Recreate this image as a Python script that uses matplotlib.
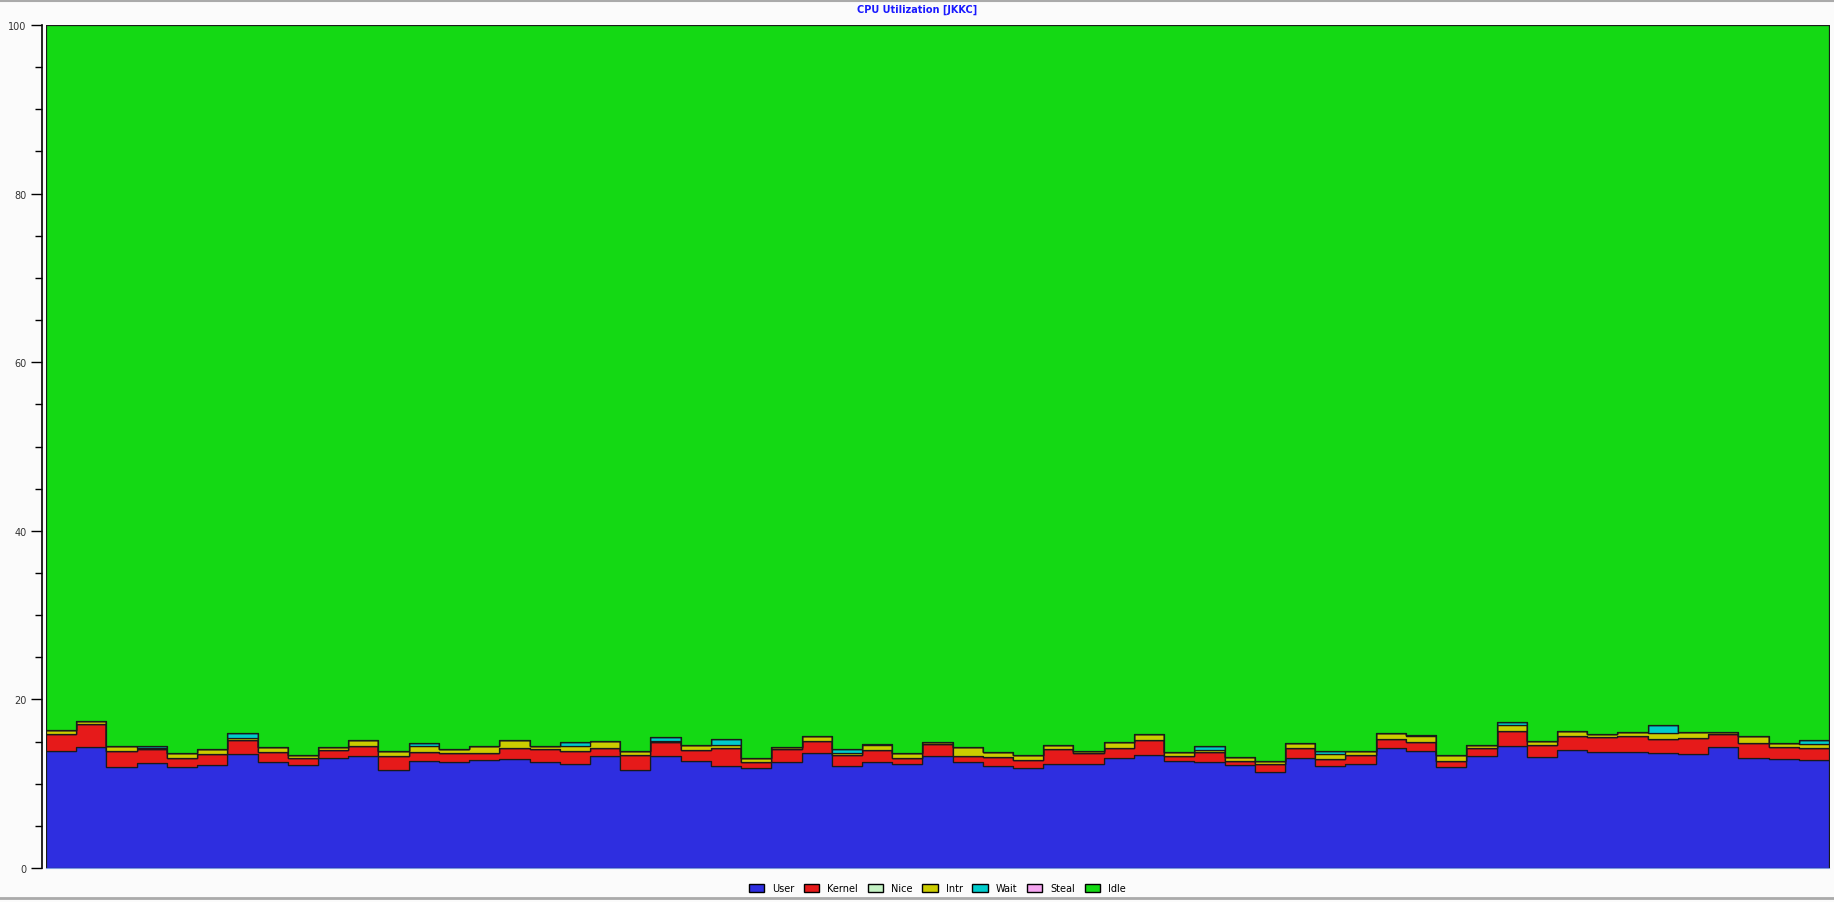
import numpy as np
import matplotlib
matplotlib.use('Agg')
import matplotlib.pyplot as plt
from matplotlib.patches import Patch
from matplotlib.ticker import MultipleLocator

##data (percent per interval)
user = [13.84, 14.31, 11.94, 12.42, 11.94, 12.18, 13.48, 12.53, 12.18, 13.01,
        13.32, 11.66, 12.73, 12.61, 12.85, 12.97, 12.61, 12.30, 13.32, 11.59,
        13.32, 12.73, 12.14, 11.90, 12.53, 13.60, 12.14, 12.61, 12.30, 13.25,
        12.53, 12.06, 11.90, 12.30, 12.30, 13.01, 13.36, 12.65, 12.53, 12.18,
        11.35, 13.01, 12.06, 12.30, 14.20, 13.84, 11.94, 13.25, 14.43, 13.13,
        13.96, 13.72, 13.72, 13.60, 13.48, 14.31, 13.01, 12.89, 12.77]
kernel = [2.02, 2.73, 1.90, 1.66, 1.15, 1.38, 1.66, 1.19, 0.83, 0.95,
          1.19, 1.66, 1.07, 1.07, 0.83, 1.30, 1.47, 1.54, 0.95, 1.85,
          1.59, 1.31, 2.06, 0.63, 1.55, 1.50, 1.22, 1.43, 0.79, 1.42,
          0.79, 1.07, 0.87, 1.78, 1.30, 1.26, 1.78, 0.60, 1.19, 0.47,
          0.95, 1.19, 0.83, 1.06, 1.06, 1.07, 0.71, 0.95, 1.78, 1.42,
          1.66, 1.78, 1.90, 1.66, 1.90, 1.55, 1.78, 1.42, 1.43]
nice = [0.0] * 59
intr = [0.47, 0.36, 0.59, 0.12, 0.51, 0.52, 0.24, 0.59, 0.35, 0.35,
        0.71, 0.60, 0.63, 0.47, 0.75, 0.87, 0.35, 0.67, 0.76, 0.48,
        0.19, 0.59, 0.43, 0.56, 0.23, 0.52, 0.32, 0.51, 0.51, 0.24,
        0.99, 0.59, 0.59, 0.47, 0.24, 0.64, 0.72, 0.47, 0.32, 0.48,
        0.35, 0.59, 0.67, 0.48, 0.71, 0.71, 0.71, 0.35, 0.71, 0.48,
        0.59, 0.36, 0.47, 0.71, 0.71, 0.23, 0.83, 0.48, 0.47]
wait = [0, 0, 0, 0.23, 0, 0, 0.59, 0, 0, 0,
        0, 0, 0.36, 0, 0, 0, 0, 0.40, 0, 0,
        0.40, 0, 0.63, 0, 0, 0, 0.40, 0.12, 0, 0,
        0, 0, 0, 0, 0, 0, 0, 0, 0.39, 0,
        0, 0, 0.28, 0, 0, 0.12, 0, 0, 0.36, 0,
        0, 0, 0, 0.95, 0, 0, 0, 0, 0.47]
steal = [0.0] * 59

names = ['User', 'Kernel', 'Nice', 'Intr', 'Wait', 'Steal', 'Idle']
colors = ['#2e2ee0', '#e61a1a', '#c4f2c4', '#cccc00', '#00cccc', '#f5a5f0', '#14d914']

##idle fills the rest up to 100
busy = np.array(user) + np.array(kernel) + np.array(nice) + np.array(intr) + np.array(wait) + np.array(steal)
idle = 100 - busy

series = [user, kernel, nice, intr, wait, steal, idle]
n = len(user)
x = np.arange(n + 1)
ys = [np.append(s, s[-1]) for s in series]  # repeat last for step='post'

fig = plt.figure(figsize=(18.34, 9.03), dpi=100, facecolor='#fbfbfb')
ax = fig.add_axes([46 / 1834, 1 - 869 / 903, (1829 - 46) / 1834, (869 - 26) / 903])
ax.set_facecolor('#fbfbfb')

ax.stackplot(x, *ys, colors=colors, step='post', edgecolor='#1a1a1a', linewidth=0.9)

ax.set_xlim(0, n)
ax.set_ylim(0, 100)
ax.yaxis.set_major_locator(MultipleLocator(20))
ax.yaxis.set_minor_locator(MultipleLocator(5))
ax.tick_params(axis='y', which='major', length=8, width=1, labelsize=7, colors='black', labelcolor='#333333', pad=3)
ax.tick_params(axis='y', which='minor', length=5, width=1)
ax.set_xticks([])
for s in ['top', 'right']:
    ax.spines[s].set_visible(False)
ax.spines['bottom'].set_color('#7d9be0')
ax.spines['left'].set_position(('outward', 3))
ax.spines['left'].set_linewidth(1.2)

fig.text(0.5, 1 - 10 / 903, 'CPU Utilization [JKKC]', ha='center', va='center',
         fontsize=7, fontweight='bold', color='#1a1aff')

handles = [Patch(facecolor=c, edgecolor='black', linewidth=1) for c in colors]
fig.legend(handles, names, loc='center', bbox_to_anchor=(0.511, 1 - 889 / 903), ncol=7,
           frameon=False, fontsize=7, handlelength=1.6, handleheight=0.9,
           columnspacing=1.0, handletextpad=0.8)

##frame lines
fig.add_artist(plt.Line2D([0, 1], [0.998, 0.998], color='#aaaaaa', linewidth=1.5))
fig.add_artist(plt.Line2D([0, 1], [0.004, 0.004], color='#aaaaaa', linewidth=2))

plt.savefig('out.png', dpi=100, facecolor=fig.get_facecolor())
plt.close()
